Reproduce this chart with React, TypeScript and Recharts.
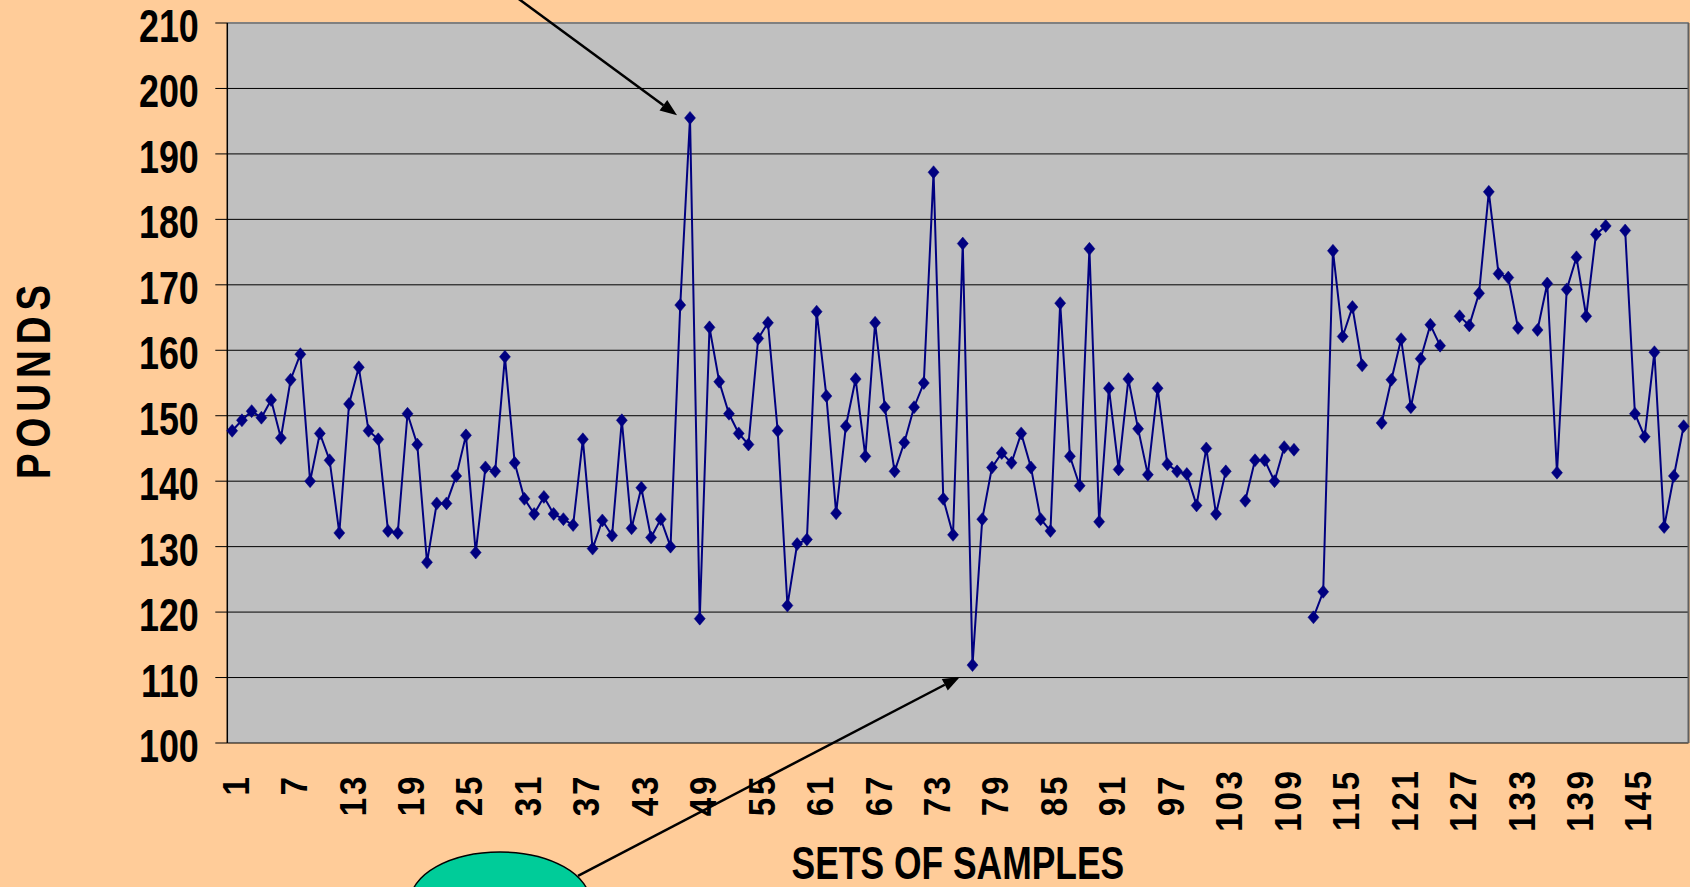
import React from 'react';
import { LineChart, Line, XAxis, YAxis, CartesianGrid, ReferenceLine, ReferenceDot } from 'recharts';

// ---- data ----
const POUNDS: (number | null)[] = [
  147.7, 149.3, 150.7, 149.7, 152.4, 146.6, 155.5, 159.4, 140.0, 147.3,
  143.2, 132.1, 151.8, 157.4, 147.7, 146.4, 132.4, 132.1, 150.3, 145.6,
  127.6, 136.6, 136.6, 140.8, 147.0, 129.1, 142.1, 141.5, 159.0, 142.8,
  137.3, 135.0, 137.6, 135.0, 134.2, 133.3, 146.4, 129.7, 134.0, 131.7,
  149.3, 132.8, 139.0, 131.4, 134.2, 130.0, 166.9, 195.5, 119.0, 163.5,
  155.2, 150.3, 147.3, 145.6, 161.8, 164.2, 147.7, 121.0, 130.4, 131.1,
  165.9, 153.0, 135.1, 148.4, 155.6, 143.8, 164.2, 151.3, 141.5, 145.9,
  151.3, 155.0, 187.2, 137.3, 131.8, 176.3, 111.9, 134.2, 142.1, 144.3,
  142.8, 147.3, 142.1, 134.2, 132.4, 167.2, 143.8, 139.3, 175.5, 133.8,
  154.2, 141.8, 155.6, 148.0, 141.0, 154.2, 142.6, 141.5, 141.1, 136.3,
  145.0, 135.0, 141.5, null, 137.0, 143.2, 143.2, 140.0, 145.2, 144.8,
  null, 119.2, 123.1, 175.2, 162.1, 166.6, 157.7, null, 148.9, 155.5,
  161.7, 151.3, 158.7, 163.9, 160.7, null, 165.2, 163.8, 168.7, 184.2,
  171.7, 171.1, 163.4, null, 163.1, 170.2, 141.3, 169.3, 174.2, 165.2,
  177.7, 179.0, null, 178.3, 150.3, 146.8, 159.7, 133.0, 140.8, 148.4,
];
const SAMPLE_SETS: number[] = POUNDS.map((_, i) => i + 1);
const X_LABEL_TICKS = [1, 7, 13, 19, 25, 31, 37, 43, 49, 55, 61, 67, 73, 79, 85, 91, 97, 103, 109, 115, 121, 127, 133, 139, 145];
const Y_TICKS = [100, 110, 120, 130, 140, 150, 160, 170, 180, 190, 200, 210];
const X_TITLE = 'SETS OF SAMPLES';
const Y_TITLE = 'POUNDS';

// annotation anchors, in data coordinates
const HIGH_ARROW = [{ x: 30.3, y: 213.8 }, { x: 46.67, y: 195.9 }];
const LOW_ARROW = [{ x: 36.5, y: 79.7 }, { x: 75.7, y: 110.1 }];
const LOW_BUBBLE = { x: 28.5, y: 75.7 };

const data = SAMPLE_SETS.map((s, i) => ({ sample: s, pounds: POUNDS[i] }));
const X_DOMAIN: [number, number] = [0.5, SAMPLE_SETS.length + 0.5];
const BOUNDARY_TICKS = [0.5, ...SAMPLE_SETS.map((s) => s + 0.5)];

const FONT = '"Liberation Sans", Arial, Helvetica, sans-serif';
const NAVY = '#000080';

const YTick = (props: any) => {
  const { x, y, payload } = props;
  return (
    <text
      transform={`translate(${x - 16.5},${y + 19}) scale(0.78,1)`}
      textAnchor="end"
      fontFamily={FONT}
      fontWeight="bold"
      fontSize={46}
      fill="#000"
    >
      {payload.value}
    </text>
  );
};

const XTick = (props: any) => {
  const { x, y, payload } = props;
  const s = String(payload.value);
  const center = s.length === 1 ? 42 : s.length === 2 ? 52 : 57;
  return (
    <text
      transform={`translate(${x + 16.5},${y + center}) rotate(-90) scale(0.9,1)`}
      textAnchor="middle"
      fontFamily={FONT}
      fontWeight="bold"
      fontSize={37}
      letterSpacing={3}
      fill="#000"
    >
      {s}
    </text>
  );
};

const XTitle = (props: any) => {
  const vb = props.viewBox || {};
  return (
    <text
      transform={`translate(${vb.x + vb.width / 2},${vb.y + 136}) scale(0.77,1)`}
      textAnchor="middle"
      fontFamily={FONT}
      fontWeight="bold"
      fontSize={46}
      fill="#000"
    >
      {X_TITLE}
    </text>
  );
};

const YTitle = (props: any) => {
  const vb = props.viewBox || {};
  return (
    <text
      transform={`translate(50,${vb.y + vb.height / 2 - 4}) rotate(-90) scale(0.8,1)`}
      textAnchor="middle"
      fontFamily={FONT}
      fontWeight="bold"
      fontSize={48}
      letterSpacing={7.5}
      fill="#000"
    >
      {Y_TITLE}
    </text>
  );
};

const Diamond = (p: any) => {
  const { cx, cy, index, value } = p;
  if (cx == null || cy == null || value == null || Number.isNaN(cy)) return <g key={`d${index}`} />;
  return (
    <path
      key={`d${index}`}
      d={`M${cx},${cy - 6.5}L${cx + 5.5},${cy}L${cx},${cy + 6.5}L${cx - 5.5},${cy}Z`}
      fill={NAVY}
      stroke={NAVY}
      strokeWidth={0.5}
    />
  );
};

const ArrowShape = (props: any) => {
  const { x1, y1, x2, y2 } = props;
  if ([x1, y1, x2, y2].some((v) => v == null)) return <g />;
  const ang = Math.atan2(y2 - y1, x2 - x1);
  const L = 17;
  const W = 6.5;
  const bx = x2 - L * Math.cos(ang);
  const by = y2 - L * Math.sin(ang);
  const px = -Math.sin(ang) * W;
  const py = Math.cos(ang) * W;
  return (
    <g>
      <line x1={x1} y1={y1} x2={bx} y2={by} stroke="#000" strokeWidth={2.5} />
      <polygon points={`${x2},${y2} ${bx + px},${by + py} ${bx - px},${by - py}`} fill="#000" />
    </g>
  );
};

const Bubble = (props: any) => {
  const { cx, cy } = props;
  if (cx == null || cy == null) return <g />;
  return <ellipse cx={cx} cy={cy} rx={90} ry={50} fill="#00CC99" stroke="#000" strokeWidth={1.5} />;
};

export default function App() {
  return (
    <div
      style={{
        position: 'absolute',
        left: 0,
        top: 0,
        width: 1690,
        height: 887,
        overflow: 'hidden',
        background: '#FFCC99',
      }}
    >
      <LineChart
        width={1690}
        height={887}
        data={data}
        margin={{ top: 23, right: 1.5, bottom: 0, left: 0 }}
        style={{ overflow: 'visible' }}
      >
        <CartesianGrid
          xAxisId="labels"
          vertical={false}
          stroke="#000"
          strokeWidth={1}
          fill="#C0C0C0"
          fillOpacity={1}
        />
        <XAxis
          xAxisId="marks"
          dataKey="sample"
          type="number"
          domain={X_DOMAIN}
          ticks={BOUNDARY_TICKS}
          interval={0}
          tick={false}
          tickLine={{ stroke: '#222' }}
          tickSize={10}
          axisLine={{ stroke: '#444', strokeWidth: 1.5 }}
          height={0}
        />
        <XAxis
          xAxisId="labels"
          dataKey="sample"
          type="number"
          domain={X_DOMAIN}
          ticks={X_LABEL_TICKS}
          interval={0}
          tickLine={false}
          axisLine={false}
          tickSize={0}
          tickMargin={0}
          height={144}
          tick={<XTick />}
          label={(p: any) => <XTitle {...p} />}
        />
        <YAxis
          type="number"
          domain={[100, 210]}
          ticks={Y_TICKS}
          interval={0}
          width={227.3}
          tickSize={12}
          tickMargin={0}
          tickLine={{ stroke: '#000' }}
          axisLine={{ stroke: '#000', strokeWidth: 1.5 }}
          tick={<YTick />}
          label={(p: any) => <YTitle {...p} />}
        />
        <ReferenceLine xAxisId="labels" y={210} stroke="#808080" strokeWidth={2} />
        <ReferenceLine xAxisId="labels" x={X_DOMAIN[1]} stroke="#606060" strokeWidth={2} />
        <Line
          xAxisId="labels"
          type="linear"
          dataKey="pounds"
          stroke={NAVY}
          strokeWidth={2}
          dot={Diamond}
          activeDot={false}
          connectNulls={false}
          isAnimationActive={false}
        />
        <ReferenceLine xAxisId="labels" segment={HIGH_ARROW} ifOverflow="visible" shape={ArrowShape} />
        <ReferenceLine xAxisId="labels" segment={LOW_ARROW} ifOverflow="visible" shape={ArrowShape} />
        <ReferenceDot xAxisId="labels" x={LOW_BUBBLE.x} y={LOW_BUBBLE.y} ifOverflow="visible" shape={Bubble} />
      </LineChart>
    </div>
  );
}
